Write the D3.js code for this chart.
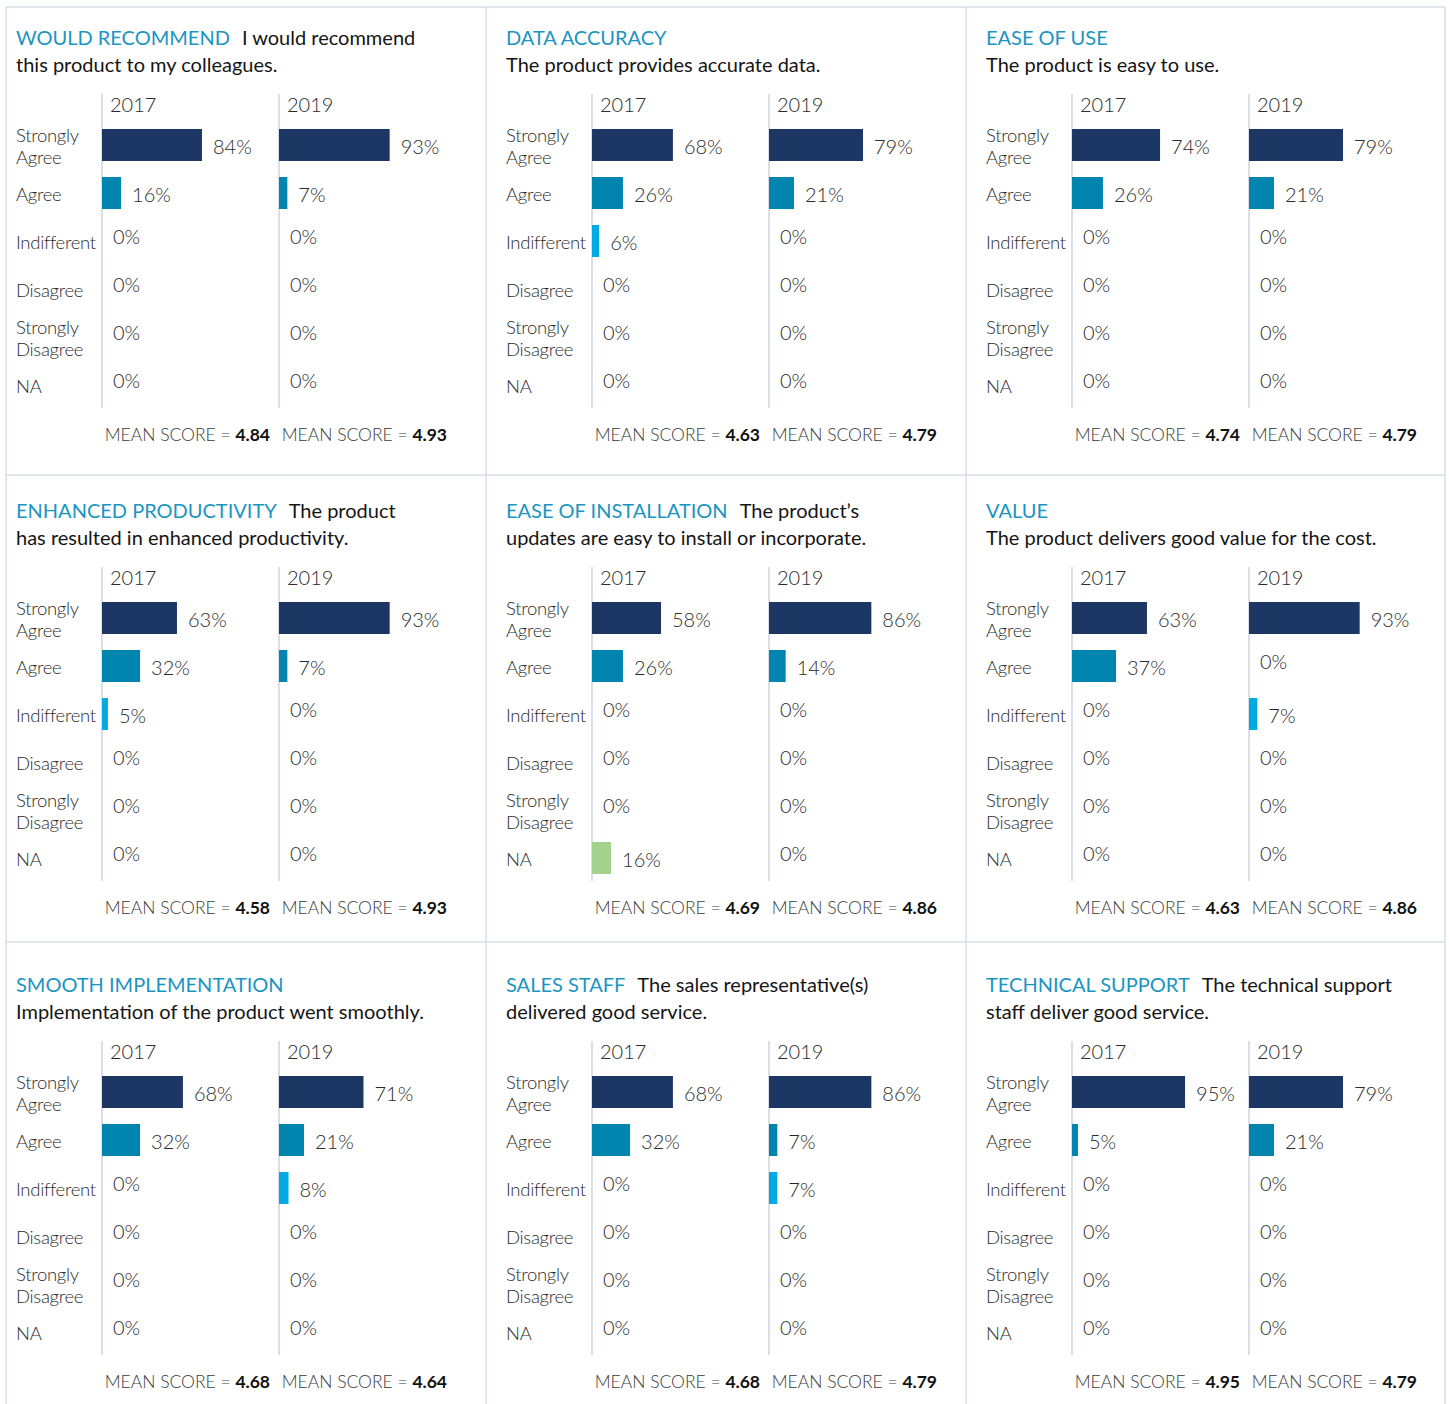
<!DOCTYPE html>
<html>
<head>
<meta charset="utf-8">
<script src="https://cdn.jsdelivr.net/npm/d3@7"></script>
<style>
  html, body { margin: 0; padding: 0; background: #fff; }
  svg { display: block; font-family: Lato, "Open Sans", sans-serif; }
</style>
</head>
<body>
<svg id="chart" width="1449" height="1404"></svg>
<script>
// --- data ---
const CATEGORIES = ['Strongly Agree', 'Agree', 'Indifferent', 'Disagree', 'Strongly Disagree', 'NA'];
const YEARS = ['2017', '2019'];

const HEADINGS = [
  'WOULD RECOMMEND', 'DATA ACCURACY', 'EASE OF USE',
  'ENHANCED PRODUCTIVITY', 'EASE OF INSTALLATION', 'VALUE',
  'SMOOTH IMPLEMENTATION', 'SALES STAFF', 'TECHNICAL SUPPORT'
];
// text after the heading on line 1, then line 2
const LINE1_REST = [
  'I would recommend', '', '',
  'The product', 'The product\u2019s', '',
  '', 'The sales representative(s)', 'The technical support'
];
const LINE2 = [
  'this product to my colleagues.', 'The product provides accurate data.', 'The product is easy to use.',
  'has resulted in enhanced productivity.', 'updates are easy to install or incorporate.', 'The product delivers good value for the cost.',
  'Implementation of the product went smoothly.', 'delivered good service.', 'staff deliver good service.'
];

const VALUES_2017 = [
  [84, 16, 0, 0, 0, 0],
  [68, 26, 6, 0, 0, 0],
  [74, 26, 0, 0, 0, 0],
  [63, 32, 5, 0, 0, 0],
  [58, 26, 0, 0, 0, 16],
  [63, 37, 0, 0, 0, 0],
  [68, 32, 0, 0, 0, 0],
  [68, 32, 0, 0, 0, 0],
  [95, 5, 0, 0, 0, 0]
];
const VALUES_2019 = [
  [93, 7, 0, 0, 0, 0],
  [79, 21, 0, 0, 0, 0],
  [79, 21, 0, 0, 0, 0],
  [93, 7, 0, 0, 0, 0],
  [86, 14, 0, 0, 0, 0],
  [93, 0, 7, 0, 0, 0],
  [71, 21, 8, 0, 0, 0],
  [86, 7, 7, 0, 0, 0],
  [79, 21, 0, 0, 0, 0]
];
const MEAN_2017 = ['4.84', '4.63', '4.74', '4.58', '4.69', '4.63', '4.68', '4.68', '4.95'];
const MEAN_2019 = ['4.93', '4.79', '4.79', '4.93', '4.86', '4.86', '4.64', '4.79', '4.79'];

const CAT_COLORS = ['#1d3765', '#0085ae', '#00aae2', '#0085ae', '#1d3765', '#a2d28c'];
const TITLE_BLUE = '#1a95c1';
const GRID = '#d7dfe7';
const AXIS = '#cdd5dd';

// --- layout ---
const svg = d3.select('#chart');
const COL_X = [0, 490, 970];
const ROW_Y = [0, 473, 947];

const x = d3.scaleLinear().domain([0, 100]).range([0, 119]);
const y = d3.scaleBand().domain(CATEGORIES).range([121, 409]).paddingInner(1 / 3).paddingOuter(1 / 6);
const yearX = d3.scalePoint().domain(YEARS).range([102, 279]);

// grid frame
const frame = svg.append('g').attr('stroke', GRID).attr('stroke-width', 1.5).attr('fill', 'none');
[6, 486, 966, 1445].forEach(gx => frame.append('line').attr('x1', gx).attr('x2', gx).attr('y1', 7).attr('y2', 1404));
[7, 475, 942].forEach(gy => frame.append('line').attr('x1', 6).attr('x2', 1445).attr('y1', gy).attr('y2', gy));

HEADINGS.forEach((heading, p) => {
  const ox = COL_X[p % 3], oy = ROW_Y[Math.floor(p / 3)];
  const g = svg.append('g').attr('transform', `translate(${ox},${oy})`);

  // title
  const t1 = g.append('text').attr('x', 16).attr('y', 45).attr('font-size', 20);
  t1.append('tspan').attr('fill', TITLE_BLUE).text(heading);
  if (LINE1_REST[p]) t1.append('tspan').attr('fill', '#151515').attr('dx', 12).text(LINE1_REST[p]);
  g.append('text').attr('x', 16).attr('y', 72).attr('font-size', 20).attr('fill', '#151515').text(LINE2[p]);

  // category labels
  CATEGORIES.forEach(c => {
    const cy = y(c) + y.bandwidth() / 2;
    const parts = c.startsWith('Strongly') ? c.split(' ') : [c];
    const lbl = g.append('text').attr('x', 16).attr('font-size', 18.5).attr('font-weight', 300)
      .attr('letter-spacing', -0.3).attr('fill', '#2b2b2b');
    if (parts.length === 2) {
      lbl.append('tspan').attr('x', 16).attr('y', cy - 3).text(parts[0]);
      lbl.append('tspan').attr('x', 16).attr('y', cy + 19).text(parts[1]);
    } else {
      lbl.attr('y', cy + 8).text(c);
    }
  });

  [VALUES_2017[p], VALUES_2019[p]].forEach((vals, yi) => {
    const ax = yearX(YEARS[yi]);
    const yg = g.append('g').attr('transform', `translate(${ax},0)`);

    yg.append('line').attr('x1', 0).attr('x2', 0).attr('y1', 94).attr('y2', 408)
      .attr('stroke', AXIS).attr('stroke-width', 1.5);
    yg.append('text').attr('x', 8).attr('y', 112).attr('font-size', 20).attr('font-weight', 300)
      .attr('fill', '#2b2b2b').text(YEARS[yi]);

    const rows = vals.map((v, i) => ({ v, c: CATEGORIES[i], i }));
    yg.selectAll('rect').data(rows.filter(d => d.v > 0)).join('rect')
      .attr('x', 0).attr('y', d => y(d.c))
      .attr('width', d => x(d.v)).attr('height', y.bandwidth())
      .attr('fill', d => CAT_COLORS[d.i]);

    yg.selectAll('text.val').data(rows).join('text')
      .attr('class', 'val')
      .attr('x', d => (d.v > 0 ? x(d.v) : 0) + 11)
      .attr('y', d => y(d.c) + y.bandwidth() / 2 + (d.v > 0 ? 9 : 3))
      .attr('font-size', 20).attr('font-weight', 300).attr('fill', '#2b2b2b')
      .text(d => d.v + '%');

    // mean score, right-aligned just before next column
    const mean = yg.append('text').attr('x', 168).attr('y', 441).attr('text-anchor', 'end')
      .attr('font-size', 17.5).attr('font-weight', 300).attr('fill', '#3a3a3a');
    mean.append('tspan').text('MEAN SCORE = ');
    mean.append('tspan').attr('font-weight', 700).attr('fill', '#111').text(yi === 0 ? MEAN_2017[p] : MEAN_2019[p]);
  });
});
</script>
</body>
</html>
